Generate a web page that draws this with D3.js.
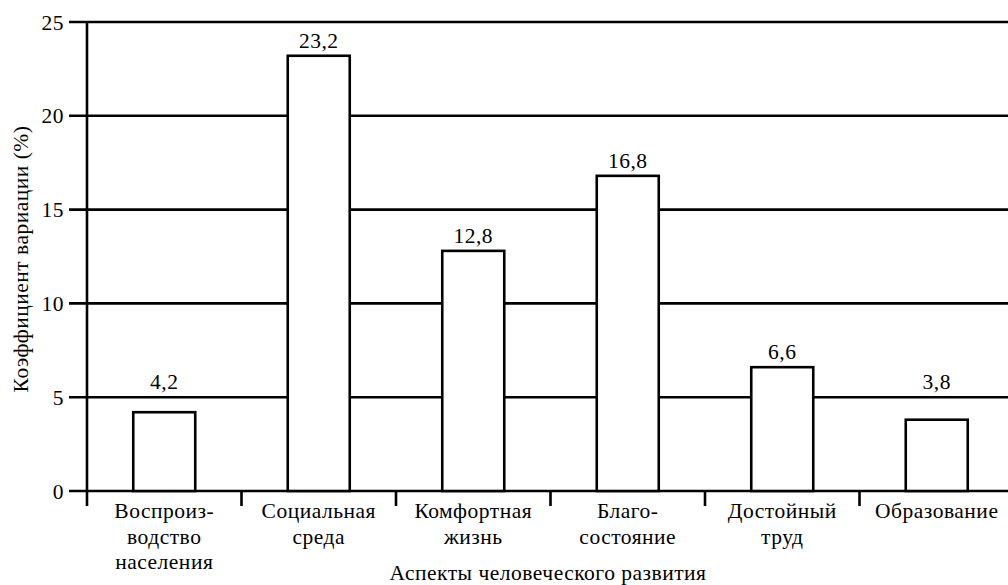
<!DOCTYPE html>
<html>
<head>
<meta charset="utf-8">
<script src="https://cdn.jsdelivr.net/npm/d3@7"></script>
<style>
  html, body { margin: 0; padding: 0; background: #fff; }
  svg { display: block; }
  svg text { font-family: "Liberation Serif", "Times New Roman", "DejaVu Serif", serif; fill: #000; letter-spacing: 0.5px; }
</style>
</head>
<body>
<svg id="chart" width="1008" height="585"></svg>
<script>
const categories = [
  ["Воспроиз-", "водство", "населения"],
  ["Социальная", "среда"],
  ["Комфортная", "жизнь"],
  ["Благо-", "состояние"],
  ["Достойный", "труд"],
  ["Образование"]
];
const values = [4.2, 23.2, 12.8, 16.8, 6.6, 3.8];
const valueLabels = ["4,2", "23,2", "12,8", "16,8", "6,6", "3,8"];
const yTicks = [0, 5, 10, 15, 20, 25];
const yTitle = "Коэффициент вариации (%)";
const xTitle = "Аспекты человеческого развития";

const W = 1008, H = 585;
const svg = d3.select("#chart");
const fs = 21.5;

const x = d3.scaleBand().domain(d3.range(categories.length)).range([87, 1014]).paddingInner(0).paddingOuter(0);
const y = d3.scaleLinear().domain([0, 25]).range([491, 22]);
const barW = 62;

// gridlines (including baseline)
svg.append("g").selectAll("line").data(yTicks).join("line")
  .attr("x1", 69).attr("x2", W)
  .attr("y1", d => y(d)).attr("y2", d => y(d))
  .attr("stroke", "#000").attr("stroke-width", 2.6);

// y tick labels
svg.append("g").selectAll("text").data(yTicks).join("text")
  .attr("x", 64).attr("y", d => y(d)).attr("dy", "0.35em")
  .attr("text-anchor", "end").attr("font-size", fs)
  .text(d => d);

// y axis line
svg.append("line").attr("x1", 87).attr("x2", 87).attr("y1", y(25)).attr("y2", 506)
  .attr("stroke", "#000").attr("stroke-width", 2.6);

// category boundary ticks
svg.append("g").selectAll("line").data(d3.range(1, categories.length + 1)).join("line")
  .attr("x1", d => x.range()[0] + d * x.bandwidth()).attr("x2", d => x.range()[0] + d * x.bandwidth())
  .attr("y1", y(0)).attr("y2", 506)
  .attr("stroke", "#000").attr("stroke-width", 2.6);

// bars
svg.append("g").selectAll("rect").data(values).join("rect")
  .attr("x", (d, i) => x(i) + x.bandwidth() / 2 - barW / 2)
  .attr("width", barW)
  .attr("y", d => y(d))
  .attr("height", d => y(0) - y(d))
  .attr("fill", "#fff").attr("stroke", "#000").attr("stroke-width", 2.6);

// value labels
svg.append("g").selectAll("text").data(values).join("text")
  .attr("x", (d, i) => x(i) + x.bandwidth() / 2)
  .attr("y", d => y(Math.max(d, 5)) - 8)
  .attr("text-anchor", "middle").attr("font-size", fs)
  .text((d, i) => valueLabels[i]);

// category labels
const cg = svg.append("g").selectAll("text").data(categories).join("text")
  .attr("text-anchor", "middle").attr("font-size", fs)
  .attr("x", (d, i) => x(i) + x.bandwidth() / 2)
  .attr("y", 518);
cg.selectAll("tspan").data(d => d).join("tspan")
  .attr("x", function() { return d3.select(this.parentNode).attr("x"); })
  .attr("dy", (d, j) => j === 0 ? 0 : 25.5)
  .text(d => d);

// axis titles
svg.append("text").attr("transform", "translate(28,259) rotate(-90)")
  .attr("text-anchor", "middle").attr("font-size", fs).text(yTitle);
svg.append("text").attr("x", 548).attr("y", 580)
  .attr("text-anchor", "middle").attr("font-size", fs).text(xTitle);
</script>
</body>
</html>
